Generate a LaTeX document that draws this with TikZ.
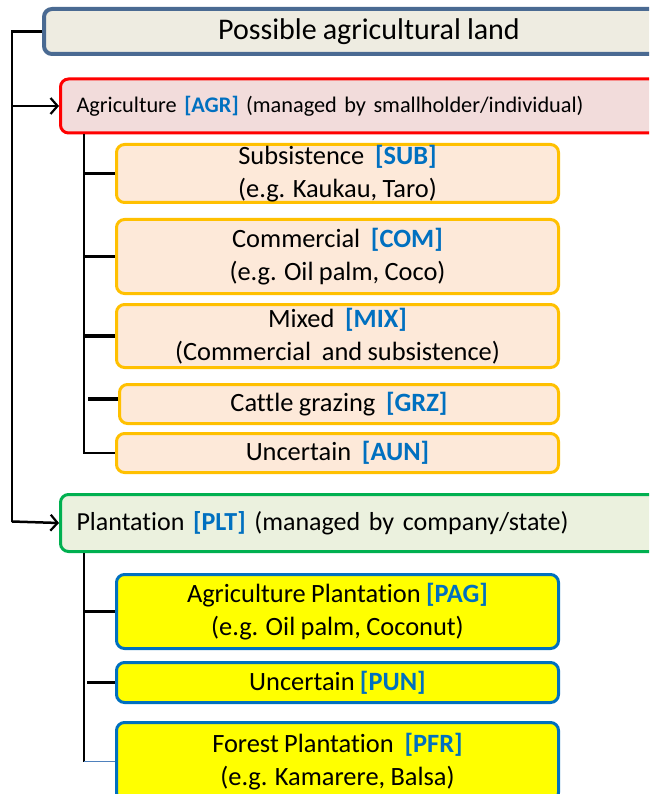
\documentclass[tikz,border=0pt]{standalone}
\usepackage{fontspec}
\setmainfont{Carlito}[Ligatures=NoCommon, WordSpace=0.9]
\usetikzlibrary{arrows.meta}

\definecolor{topline}{HTML}{4A6A92}
\definecolor{topfill}{HTML}{EEECE1}
\definecolor{agrline}{HTML}{FF0000}
\definecolor{agrfill}{HTML}{F2DCDB}
\definecolor{subline}{HTML}{FFC000}
\definecolor{subfill}{HTML}{FDE9D9}
\definecolor{pltline}{HTML}{00B050}
\definecolor{pltfill}{HTML}{EBF1DE}
\definecolor{plaline}{HTML}{0070C0}
\definecolor{plafill}{HTML}{FFFF00}
\definecolor{tagblue}{HTML}{0070C0}
\definecolor{linkblue}{HTML}{4F81BD}

\newcommand{\tagc}[1]{\textcolor{tagblue}{\textbf{#1}}}

\begin{document}
\begin{tikzpicture}[x=1pt,y=-1pt,
  box/.style={rectangle, rounded corners=8pt, line width=3pt, inner sep=0pt,
    anchor=north west, align=center, font=\fontsize{26.4}{32.5}\selectfont},
  topbox/.style={box, draw=topline, fill=topfill, line width=4pt,
    minimum width=650pt, minimum height=45pt, font=\fontsize{30}{34}\selectfont},
  groupbox/.style={box, align=left, inner xsep=16pt, text width=609pt,
    minimum width=641pt},
  agrbox/.style={groupbox, draw=agrline, fill=agrfill, minimum height=54pt,
    font=\fontsize{22.3}{27}\selectfont},
  pltbox/.style={groupbox, draw=pltline, fill=pltfill, minimum height=57pt,
    font=\fontsize{26}{30}\selectfont},
  subbox/.style={box, draw=subline, fill=subfill, minimum width=442pt},
  plabox/.style={box, draw=plaline, fill=plafill, minimum width=442pt},
  trunk/.style={draw=black, line width=2.8pt},
  tick/.style={draw=black, line width=3.2pt},
  arr/.style={draw=black, line width=2.5pt,
    -{Straight Barb[length=7pt,width=16pt,line width=2.2pt]}},
  thinlink/.style={draw=linkblue, line width=1.5pt}
]
\useasboundingbox (0,0) rectangle (649,794);
\clip (0,0) rectangle (649,794);

% top level
\node[topbox] (top) at (42,7) {Possible agricultural land};

% smallholder agriculture
\node[agrbox] (agr) at (59,77.5)
  {Agriculture \tagc{[AGR]} (managed by smallholder/individual)};
\node[subbox, minimum height=58pt] (sub) at (115,143)
  {Subsistence\ \ \tagc{[SUB]}\\(e.g. Kaukau, Taro)};
\node[subbox, minimum height=74pt] (com) at (115,218)
  {Commercial\ \ \tagc{[COM]}\\(e.g. Oil palm, Coco)};
\node[subbox, minimum height=63pt] (mix) at (115,303)
  {Mixed\ \ \tagc{[MIX]}\\(Commercial\ \ and subsistence)};
\node[subbox, minimum height=39pt, minimum width=439pt] (grz) at (118,383)
  {Cattle grazing\ \ \tagc{[GRZ]}};
\node[subbox, minimum height=39pt] (aun) at (115,432)
  {Uncertain\ \ \tagc{[AUN]}};

% plantations
\node[pltbox] (plt) at (59,493)
  {Plantation \tagc{[PLT]} (managed by company/state)};
\node[plabox, minimum height=74pt] (pag) at (115,573)
  {Agriculture Plantation \tagc{[PAG]}\\(e.g. Oil palm, Coconut)};
\node[plabox, minimum height=40pt] (pun) at (115,661)
  {Uncertain \tagc{[PUN]}};
\node[plabox, minimum height=78pt] (pfr) at (115,721)
  {Forest Plantation\ \ \tagc{[PFR]}\\(e.g. Kamarere, Balsa)};

% main trunk
\coordinate (mainEnd) at (12,521.5);
\draw[trunk] (top.west) -| (mainEnd);
\draw[arr] (agr.west -| mainEnd) -- (agr.west);
\draw[arr] (mainEnd) -- (plt.west);

% agriculture branch
\path ([xshift=25pt]agr.south west) coordinate (agrTop);
\draw[trunk] (agrTop) |- (aun.west);
\draw[tick] (sub.west) -- ++(-31,0);
\draw[tick] (com.west) -- ++(-31,0);
\draw[tick] (mix.west) -- ++(-31,0);
\draw[tick] ([yshift=5pt]grz.west) -- ++(-30,0);

% plantation branch
\path ([xshift=25pt]plt.south west) coordinate (pltTop);
\draw[trunk] (pltTop) -- (pltTop |- pfr.west);
\draw[tick] (pag.west) -- ++(-31,0);
\draw[tick] (pun.west) -- ++(-28,0);
\draw[thinlink] (pfr.west) -- ++(-31,0);
\end{tikzpicture}
\end{document}
